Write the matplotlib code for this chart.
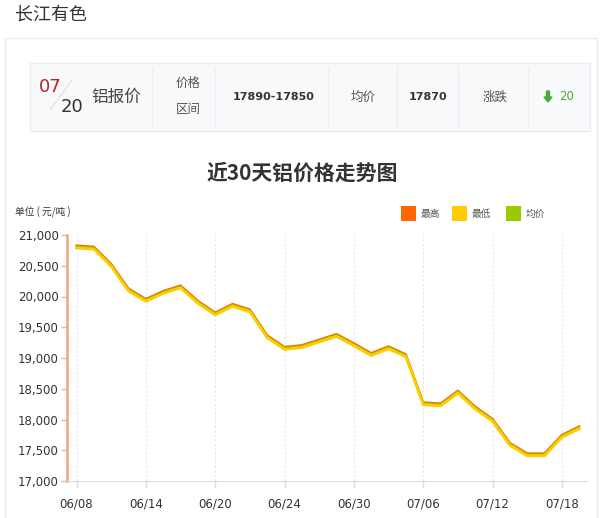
import matplotlib.pyplot as plt
from matplotlib.patches import Rectangle
from matplotlib.lines import Line2D

plt.rcParams['font.family'] = ['DejaVu Sans', 'Noto Sans CJK SC']
CJK = ['Noto Sans CJK SC', 'DejaVu Sans']

# 近30天铝价 (元/吨)
dates = ['06/08', '06/09', '06/10', '06/13', '06/14', '06/15', '06/16', '06/17',
         '06/20', '06/21', '06/22', '06/23', '06/24', '06/27', '06/28', '06/29',
         '06/30', '07/01', '07/04', '07/05', '07/06', '07/07', '07/08', '07/11',
         '07/12', '07/13', '07/14', '07/15', '07/18', '07/19']
high = [20830, 20810, 20530, 20130, 19960, 20090, 20180, 19930, 19740, 19880,
        19790, 19370, 19180, 19210, 19300, 19390, 19240, 19080, 19190, 19060,
        18280, 18260, 18470, 18210, 18010, 17620, 17450, 17450, 17750, 17890]
low = [20790, 20770, 20490, 20090, 19920, 20050, 20140, 19890, 19700, 19840,
       19750, 19330, 19140, 19170, 19260, 19350, 19200, 19040, 19150, 19020,
       18240, 18220, 18430, 18170, 17970, 17580, 17410, 17410, 17710, 17850]
avg = [20810, 20790, 20510, 20110, 19940, 20070, 20160, 19910, 19720, 19860,
       19770, 19350, 19160, 19190, 19280, 19370, 19220, 19060, 19170, 19040,
       18260, 18240, 18450, 18190, 17990, 17600, 17430, 17430, 17730, 17870]
label_idx = [0, 4, 8, 12, 16, 20, 24, 28]
yticks = [17000, 17500, 18000, 18500, 19000, 19500, 20000, 20500, 21000]

series = [('最高', high, '#ff6600'), ('最低', low, '#ffcc00'), ('均价', avg, '#99cc00')]

W, H = 600, 518
fig = plt.figure(figsize=(W / 100, H / 100), dpi=100)

# page layer in pixel coordinates
bg = fig.add_axes([0, 0, 1, 1], zorder=0)
bg.set_xlim(0, W)
bg.set_ylim(H, 0)
bg.axis('off')

bg.text(15, 15, '长江有色', family=CJK, fontsize=13, color='#333333', va='center')
bg.add_patch(Rectangle((5, 38), 592, 500, fill=False, ec='#ececec', lw=1))

# price card
bg.add_patch(Rectangle((30, 63), 560, 68, fc='#f8f9fb', ec='#eaecf0', lw=1))
for sx in [152, 215, 328, 397, 458, 528]:
    bg.add_line(Line2D([sx, sx], [67, 127], color='#eceef2', lw=0.8))
bg.add_line(Line2D([50, 72], [110, 80], color='#dddddd', lw=0.8))
bg.text(39, 87, '07', fontsize=13, color='#b8242a', va='center')
bg.text(61, 107, '20', fontsize=13, color='#333333', va='center')
bg.text(91, 97, '铝报价', family=CJK, fontsize=12, color='#444444', va='center')
bg.text(188, 83, '价格', family=CJK, fontsize=9, color='#555555', va='center', ha='center')
bg.text(188, 110, '区间', family=CJK, fontsize=9, color='#555555', va='center', ha='center')
bg.text(274, 97, '17890-17850', fontsize=8, fontweight='bold', color='#333333',
        va='center', ha='center')
bg.text(363, 97, '均价', family=CJK, fontsize=9, color='#555555', va='center', ha='center')
bg.text(428, 97, '17870', fontsize=8, fontweight='bold', color='#333333',
        va='center', ha='center')
bg.text(495, 97, '涨跌', family=CJK, fontsize=9, color='#555555', va='center', ha='center')
bg.arrow(548, 91, 0, 6, width=3, head_width=8, head_length=5, color='#4caa3a',
         length_includes_head=False)
bg.text(559, 97, '20', fontsize=8.5, color='#4caa3a', va='center')

# chart header
bg.text(302, 173, '近30天铝价格走势图', family=CJK, fontsize=15, fontweight='bold',
        color='#333333', ha='center', va='center')
bg.text(15, 212, '单位 ( 元/吨 )', family=CJK, fontsize=7, color='#333333', va='center')
lx = [401, 452, 506]
for (name, _, c), x0 in zip(series, lx):
    bg.add_patch(Rectangle((x0, 206), 15, 15, fc=c, ec='none'))
    bg.text(x0 + 20, 213.5, name, family=CJK, fontsize=7, color='#555555', va='center')

# chart
ax = fig.add_axes([67 / W, (H - 481) / H, 520 / W, 246 / H], zorder=1)
ax.patch.set_alpha(0)
x = range(len(dates))
# yellow drawn last so it sits on top, as in the original
zs = {'最高': 2, '均价': 3, '最低': 4}
widths = {'最高': 1.5, '均价': 1.6, '最低': 2.0}
for name, vals, c in series:
    ax.plot(x, vals, color=c, lw=widths[name], zorder=zs[name], solid_joinstyle='round')

ax.set_xlim(-0.55, 29.45)
ax.set_ylim(17000, 21000)
ax.set_yticks(yticks)
ax.set_yticklabels([f'{v:,}' for v in yticks])
ax.set_xticks(label_idx)
ax.set_xticklabels([dates[i] for i in label_idx])
ax.tick_params(axis='y', length=4, width=1, color='#e8b894', pad=2,
               labelsize=8.5, labelcolor='#333333')
ax.tick_params(axis='x', length=5, width=1, color='#dddddd', pad=7,
               labelsize=8.5, labelcolor='#333333')
ax.grid(axis='x', color='#e6e6e6', lw=0.8, ls=(0, (2, 2)))
for s in ['top', 'right']:
    ax.spines[s].set_visible(False)
ax.spines['left'].set_color('#e8a87c')
ax.spines['left'].set_linewidth(1.8)
ax.spines['bottom'].set_color('#dddddd')

fig.savefig('out.png', dpi=100)
